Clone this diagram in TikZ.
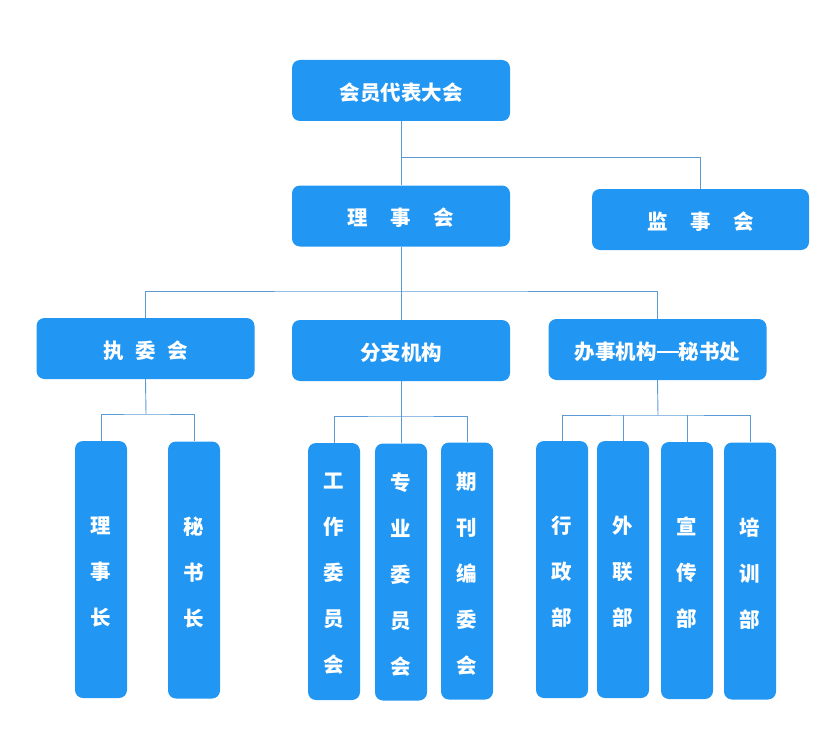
\documentclass[tikz,border=0pt]{standalone}
\usepackage{fontspec}
\setmainfont{Noto Sans CJK SC}
\definecolor{boxblue}{HTML}{2196F3}
\definecolor{linec}{HTML}{5B9BD5}
\newcommand{\longdash}{\rule[0.32em]{1.05em}{1.6pt}}
\newcommand{\dn}[1]{\raisebox{-2pt}[\height][\depth]{#1}}
\tikzset{
  box/.style={fill=boxblue, rounded corners=8pt, text=white, inner sep=0pt,
    font=\fontsize{20.5}{24}\selectfont\bfseries, align=center},
  hbox/.style={box, minimum width=218pt, minimum height=61pt},
  vbox/.style={box, minimum width=52pt, minimum height=257pt},
  vtext/.style={text=white, inner sep=0pt, align=center,
    font=\fontsize{20.5}{46}\selectfont\bfseries},
  conn/.style={draw=linec, line width=0.9pt}
}
\begin{document}
\begin{tikzpicture}[x=1pt,y=-1pt]
\useasboundingbox (0,0) rectangle (830,733);
\node[hbox] (top) at (401,90.5) {\dn{会员代表大会}};
\node[hbox] (lsh) at (401,216) {\dn{理\hspace{1.1em}事\hspace{1.1em}会}};
\node[hbox, minimum width=217pt] (jsh) at (700.5,219.5) {\dn{监\hspace{1.1em}事\hspace{1.1em}会}};
\node[hbox] (zwh) at (145.5,348.5) {\dn{执\hspace{0.55em}委\hspace{0.55em}会}};
\node[hbox] (fzjg) at (401,350.5) {\dn{分支机构}};
\node[hbox] (bsjg) at (657.5,349.5) {\dn{办事机构\longdash 秘书处}};

\node[vbox] (lsz) at (101,569.5) {};
\node[vbox] (msz) at (194,570) {};
\node[vbox] (gz) at (334,571.5) {};
\node[vbox] (zy) at (401,572) {};
\node[vbox] (qk) at (467,571) {};
\node[vbox] (xz) at (562,569.5) {};
\node[vbox] (wl) at (623,569.5) {};
\node[vbox] (xc) at (687,570.5) {};
\node[vbox] (px) at (750,571) {};

\node[vtext] (tlsz) at ([yshift=-2.5pt]lsz.center) {理\\事\\长};
\node[vtext] (tmsz) at ([yshift=-2.5pt]msz.center) {秘\\书\\长};
\node[vtext] (tgz) at ([yshift=-2.5pt]gz.center) {工\\作\\委\\员\\会};
\node[vtext] (tzy) at ([yshift=-2.5pt]zy.center) {专\\业\\委\\员\\会};
\node[vtext] (tqk) at ([yshift=-2.5pt]qk.center) {期\\刊\\编\\委\\会};
\node[vtext] (txz) at ([yshift=-2.5pt]xz.center) {行\\政\\部};
\node[vtext] (twl) at ([yshift=-2.5pt]wl.center) {外\\联\\部};
\node[vtext] (txc) at ([yshift=-2.5pt]xc.center) {宣\\传\\部};
\node[vtext] (tpx) at ([yshift=-2.5pt]px.center) {培\\训\\部};

\coordinate (b1) at (401,157);
\coordinate (b2) at (401,291);
\coordinate (b3) at (146,414);
\coordinate (b4) at (401,416);
\coordinate (b5) at (658,415);

\draw[conn] (top.south) -- (lsh.north);
\draw[conn] (b1) -| (jsh.north);
\draw[conn] (lsh.south) -- (fzjg.north);
\draw[conn] (zwh.north) |- (b2) -| (bsjg.north);
\draw[conn] (zwh.south) -- (b3);
\draw[conn] (lsz.north) |- (b3) -| (msz.north);
\draw[conn] (fzjg.south) -- (zy.north);
\draw[conn] (gz.north) |- (b4) -| (qk.north);
\draw[conn] (bsjg.south) -- (b5);
\draw[conn] (xz.north) |- (b5) -| (px.north);
\draw[conn] (wl.north) -- (wl.north |- b5);
\draw[conn] (xc.north) -- (xc.north |- b5);
\end{tikzpicture}
\end{document}
